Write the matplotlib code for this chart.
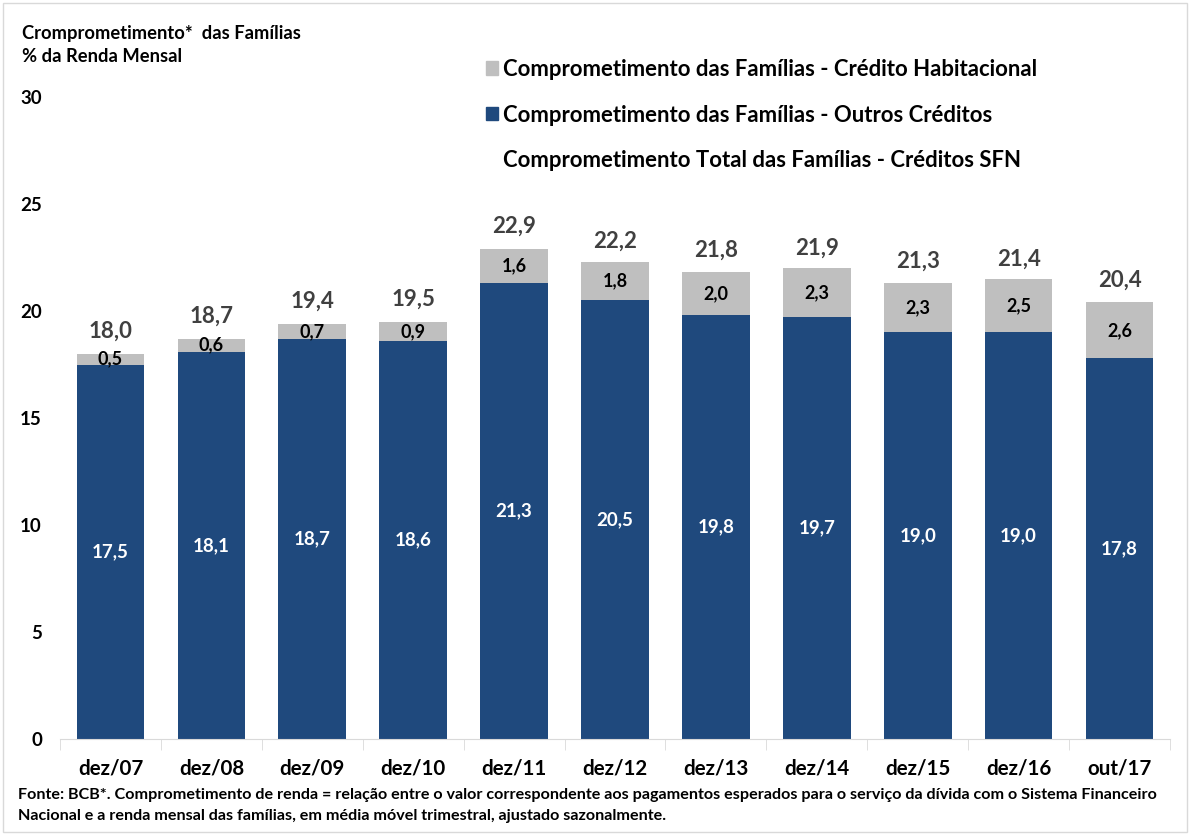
import matplotlib.pyplot as plt
from matplotlib.patches import Patch

plt.rcParams['font.family'] = ['Lato', 'DejaVu Sans']
plt.rcParams['font.weight'] = 'bold'

categorias = ['dez/07', 'dez/08', 'dez/09', 'dez/10', 'dez/11', 'dez/12',
              'dez/13', 'dez/14', 'dez/15', 'dez/16', 'out/17']
outros = [17.5, 18.1, 18.7, 18.6, 21.3, 20.5, 19.8, 19.7, 19.0, 19.0, 17.8]
habitacional = [0.5, 0.6, 0.7, 0.9, 1.6, 1.8, 2.0, 2.3, 2.3, 2.5, 2.6]
total = [18.0, 18.7, 19.4, 19.5, 22.9, 22.2, 21.8, 21.9, 21.3, 21.4, 20.4]

azul = '#1F497D'
cinza = '#BFBFBF'

def fmt(v):
    return f'{v:.1f}'.replace('.', ',')

fig = plt.figure(figsize=(11.9, 8.35), dpi=100)
ax = fig.add_axes([60/1190, 1 - 739/835, 1110/1190, 642/835])

x = range(len(categorias))
b1 = ax.bar(x, outros, width=0.67, color=azul)
b2 = ax.bar(x, habitacional, width=0.67, bottom=outros, color=cinza)

for i in x:
    ax.text(i, outros[i] / 2, fmt(outros[i]), ha='center', va='center',
            color='white', fontsize=13.5, fontweight='bold')
    ax.text(i, outros[i] + habitacional[i] / 2, fmt(habitacional[i]),
            ha='center', va='center', color='black', fontsize=13,
            fontweight='bold')
    ax.text(i, total[i] + 0.55, fmt(total[i]), ha='center', va='bottom',
            color='#404040', fontsize=16, fontweight='bold')

ax.set_ylim(0, 30)
ax.set_xlim(-0.5, len(categorias) - 0.5)
ax.set_yticks([0, 5, 10, 15, 20, 25, 30])
ax.set_yticklabels(['0', '5', '10', '15', '20', '25', '30'])
ax.tick_params(axis='y', length=0, pad=13, labelsize=13.5)
ax.set_xticks([i + 0.5 for i in range(-1, len(categorias))], minor=True)
ax.set_xticks(list(x))
ax.set_xticklabels(categorias, fontsize=14.8)
ax.tick_params(axis='x', which='major', length=0, pad=14)
ax.tick_params(axis='x', which='minor', length=8, color='#D9D9D9')
for s in ['top', 'right', 'left']:
    ax.spines[s].set_visible(False)
ax.spines['bottom'].set_color('#D9D9D9')

fig.text(22/1190, 1 - 33/835, 'Cromprometimento*  das Famílias', fontsize=13.2,
         va='center', fontweight='bold')
fig.text(22/1190, 1 - 56/835, '% da Renda Mensal', fontsize=13.2,
         va='center', fontweight='bold')

handles = [Patch(color=cinza), Patch(color=azul), Patch(color='none')]
labels = ['Comprometimento das Famílias - Crédito Habitacional',
          'Comprometimento das Famílias - Outros Créditos',
          'Comprometimento Total das Famílias - Créditos SFN']
fig.legend(handles, labels, loc='upper left',
           bbox_to_anchor=(466/1190, 1 - 39/835), frameon=False,
           prop={'size': 15.9, 'weight': 'bold'}, labelspacing=1.12,
           handlelength=0.54, handleheight=0.54, handletextpad=0.25)

fig.text(18/1190, 1 - 795/835,
         'Fonte: BCB*. Comprometimento de renda = relação entre o valor correspondente aos pagamentos esperados para o serviço da dívida com o Sistema Financeiro',
         fontsize=11.6, va='center', fontweight='bold')
fig.text(18/1190, 1 - 816/835,
         'Nacional e a renda mensal das famílias, em média móvel trimestral, ajustado sazonalmente.',
         fontsize=11.6, va='center', fontweight='bold')

fig.patches.append(plt.Rectangle((3/1190, 3/835), 1 - 6/1190, 1 - 6/835,
                                 transform=fig.transFigure, fill=False,
                                 edgecolor='#D9D9D9', linewidth=1))

fig.savefig('out.png', dpi=100)
